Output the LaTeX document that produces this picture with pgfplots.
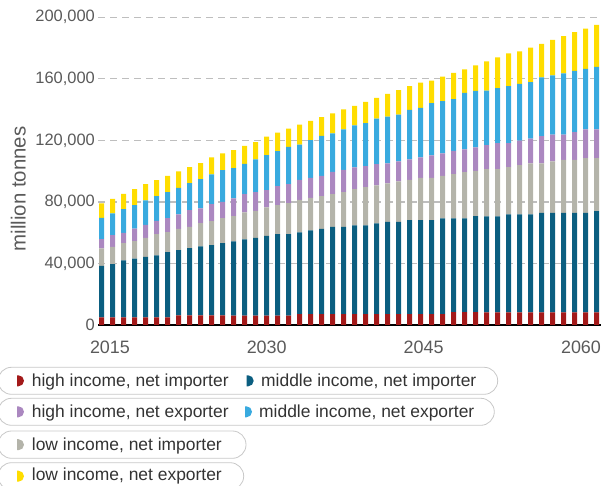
\documentclass[border=0pt]{standalone}
\usepackage{fontspec}
\setmainfont{Liberation Sans}
\usepackage{pgfplots}
\usepackage{pgfplotstable}
\pgfplotsset{compat=1.18}

\definecolor{hiimp}{RGB}{163,26,26}
\definecolor{midimp}{RGB}{11,94,128}
\definecolor{lowimp}{RGB}{180,180,170}
\definecolor{hiexp}{RGB}{171,136,192}
\definecolor{midexp}{RGB}{57,170,223}
\definecolor{lowexp}{RGB}{255,221,0}
\definecolor{gridgray}{RGB}{190,190,190}
\definecolor{tickgray}{RGB}{90,90,90}
\definecolor{pillgray}{RGB}{200,200,200}

% million tonnes per segment, bottom to top
\pgfplotstableread{
year hiimp midimp lowimp hiexp midexp lowexp
2015 5000 33500 11300 6000 13900 9300
2016 5000 34600 11200 7600 14100 9500
2017 5000 37000 11200 6700 15400 10000
2018 5000 38100 11400 8100 15300 10400
2019 5000 39200 12500 8400 15900 10600
2020 5000 40200 13900 8600 16100 10400
2021 5000 42400 13000 9100 16900 10600
2022 6300 42400 13800 9400 17300 10600
2023 6300 43700 13800 10900 17500 10400
2024 6300 44800 15100 9600 19000 10400
2025 6300 45600 15600 11100 19300 11000
2026 6300 46900 16300 10600 20500 10900
2027 6100 48200 16500 11500 19600 11700
2028 6100 49500 17600 11900 19600 11700
2029 6100 50600 17500 12200 21200 11200
2030 6100 51900 18400 11300 22700 12100
2031 6100 53000 18800 12400 22700 12100
2032 6100 53000 20100 12400 24200 11900
2033 7100 53100 21200 13000 22900 13000
2034 7100 54400 21200 13000 24400 12600
2035 7100 55400 21300 13100 26000 12200
2036 7100 56700 21300 14400 25000 13000
2037 7100 56700 22600 14400 26300 13000
2038 7100 57600 23600 14100 27300 12700
2039 7100 57600 24900 13600 28000 13800
2040 7100 58900 24700 13800 29700 13400
2041 7100 60000 24900 13000 30500 14700
2042 7100 60000 26200 13000 30500 15800
2043 7100 61100 26200 13200 32200 15400
2044 7100 61100 27400 13300 32200 16500
2045 7100 61100 27400 14600 34000 14700
2046 7100 62200 27600 14600 34000 16000
2047 8400 60900 28800 15100 33600 17000
2048 8400 60900 30100 14700 36700 15400
2049 8400 62400 29400 15200 36700 16700
2050 8200 62400 30700 15600 35500 19000
2051 8200 62400 30700 16900 35700 20100
2052 8200 63700 30700 15600 37000 21400
2053 8200 63700 32000 16000 36800 21200
2054 8200 63700 33100 16200 36600 22500
2055 8200 64700 32100 17700 38300 21700
2056 8200 64700 33400 17500 38500 23000
2057 8200 64700 34400 16500 39800 24100
2058 8200 64700 34400 18000 39800 25200
2059 8200 64700 35500 18700 39300 26300
2060 8200 65800 34400 18700 40600 27300
}\data

% half-disc legend marker
\newcommand{\dmark}[3]{\fill[#1] (#2,#3-5.5) -- (#2+1.5,#3-5.5) arc[start angle=-90,end angle=90,radius=5.5bp] -- (#2,#3+5.5) -- cycle;}

\begin{document}
\begin{tikzpicture}
\useasboundingbox (0,0) rectangle (609bp,486bp);
\begin{axis}[
  at={(98bp,161bp)}, anchor=south west,
  scale only axis, width=503bp, height=307.7bp,
  ybar stacked, bar width=5bp,
  xmin=2014.664, xmax=2060.39,
  ymin=0, ymax=200000,
  axis x line=bottom, axis y line=left,
  x axis line style={-, black, line width=1.6bp},
  y axis line style={draw=none},
  ymajorgrids,
  major grid style={gridgray, line width=1.2bp, dash pattern=on 7bp off 5bp},
  major tick length=0pt,
  ytick={0,40000,80000,120000,160000,200000},
  scaled y ticks=false,
  xtick={2015.75,2030,2044.27,2058.57},
  xticklabels={2015,2030,2045,2060},
  /pgf/number format/.cd, 1000 sep={,}, fixed, assume math mode=true,
  /pgfplots/.cd,
  yticklabel style={font=\fontsize{16.5}{18}\selectfont, text=tickgray, anchor=east, inner sep=0pt, xshift=-3bp},
  xticklabel style={font=\fontsize{18}{20}\selectfont, text=tickgray, anchor=north, inner sep=0pt, yshift=-15.7bp},
  every axis plot/.append style={draw=none},
]
\addplot[fill=hiimp] table[x=year, y=hiimp] {\data};
\addplot[fill=midimp] table[x=year, y=midimp] {\data};
\addplot[fill=lowimp] table[x=year, y=lowimp] {\data};
\addplot[fill=hiexp] table[x=year, y=hiexp] {\data};
\addplot[fill=midexp] table[x=year, y=midexp] {\data};
\addplot[fill=lowexp] table[x=year, y=lowexp] {\data};
\end{axis}

\node[rotate=90, text=tickgray, font=\fontsize{20.5}{22}\selectfont] at (18.3bp,297bp) {million tonnes};

\begin{scope}[x=1bp, y=1bp]
  \draw[pillgray, line width=0.8bp, rounded corners=13.5bp] (-2,91.7) rectangle (497.7,118.7);
  \draw[pillgray, line width=0.8bp, rounded corners=13.5bp] (-2,60.7) rectangle (494.3,87.7);
  \draw[pillgray, line width=0.8bp, rounded corners=13.5bp] (-2,27.7) rectangle (246,55);
  \draw[pillgray, line width=0.8bp, rounded corners=13.5bp] (-2,-3.7) rectangle (243.7,23.3);
  \dmark{hiimp}{17}{105.2}
  \dmark{midimp}{246.7}{105.2}
  \dmark{hiexp}{17}{74.2}
  \dmark{midexp}{245}{74.2}
  \dmark{lowimp}{17}{41.3}
  \dmark{lowexp}{17}{9.8}
  \begin{scope}[every node/.style={anchor=base west, inner sep=0pt, text=black!80, font=\fontsize{17.5}{20}\selectfont}]
    \node at (31.7,99.3) {high income, net importer};
    \node at (261,99.3) {middle income, net importer};
    \node at (31.7,68.7) {high income, net exporter};
    \node at (259,68.7) {middle income, net exporter};
    \node at (31.7,36) {low income, net importer};
    \node at (31.7,5.3) {low income, net exporter};
  \end{scope}
\end{scope}
\end{tikzpicture}
\end{document}
